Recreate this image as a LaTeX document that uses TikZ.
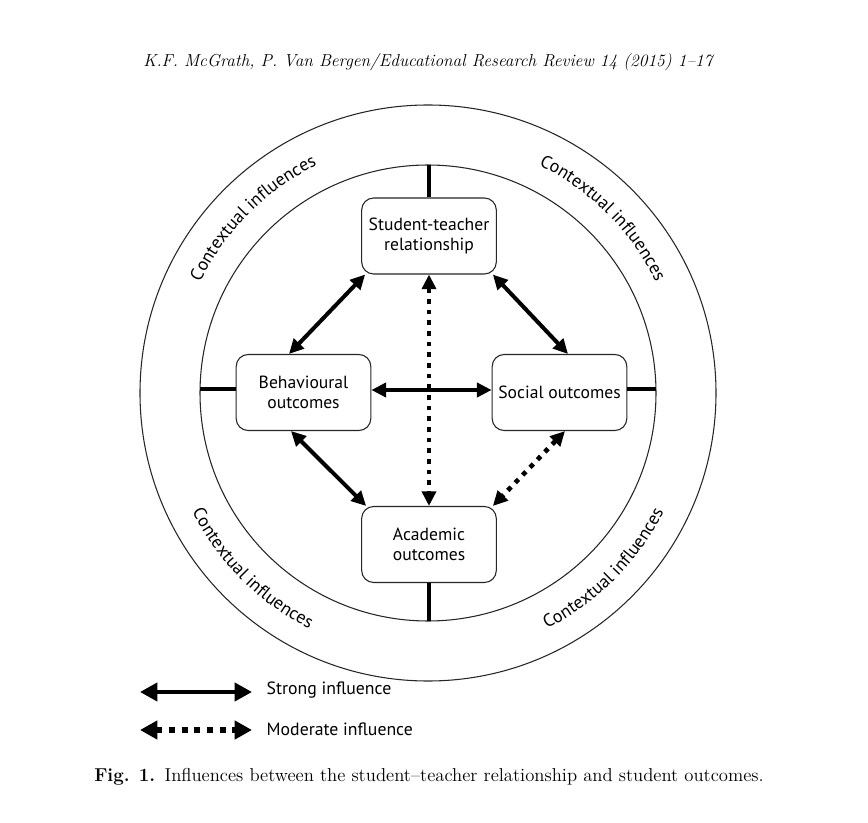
\documentclass[tikz,border=0pt]{standalone}
\usepackage{fontspec}
\newfontfamily\diag{PT Sans}
\usetikzlibrary{arrows.meta,calc,decorations.text}
\begin{document}
\begin{tikzpicture}[x=0.75pt,y=0.75pt,
  box/.style={draw=black!85, line width=0.8pt, rounded corners=9pt, minimum width=101pt, minimum height=57pt, align=center, inner sep=2pt, font=\diag\fontsize{13.2}{15}\selectfont, fill=white},
  ring/.style={draw=black!85, line width=0.8pt},
  bar/.style={line width=3pt},
  strong/.style={line width=3pt, {Triangle[length=11pt,width=10.5pt]}-{Triangle[length=11pt,width=10.5pt]}},
  moderate/.style={line width=3.5pt, dash pattern=on 3.5pt off 4.5pt, {Triangle[length=11pt,width=10.5pt]}-{Triangle[length=11pt,width=10.5pt]}},
  strongleg/.style={line width=3pt, {Triangle[length=13pt,width=13.5pt]}-{Triangle[length=13pt,width=13.5pt]}},
  moderateleg/.style={line width=4.5pt, dash pattern=on 4.5pt off 5pt, {Triangle[length=13pt,width=13.5pt]}-{Triangle[length=13pt,width=13.5pt]}},
  ctx/.style={decorate, decoration={text along path, text align=center, text={|\diag\fontsize{13.5}{15}\selectfont|Contextual influences}}},
  legtext/.style={anchor=west, font=\diag\fontsize{13.3}{15}\selectfont}
]
\useasboundingbox (0,0) rectangle (868,-823);
\coordinate (C) at (428,-393);
% header and caption
\node[font=\fontsize{13}{15}\selectfont\itshape] (hdr) at (428,-62) {K.F. McGrath, P. Van Bergen/Educational Research Review 14 (2015) 1--17};
\node[font=\fontsize{14}{16}\selectfont] (cap) at (429,-777) {\textbf{Fig. 1.}\enspace Influences between the student--teacher relationship and student outcomes.};
% rings
\draw[ring] (C) circle[radius=216pt];
\draw[ring] (C) circle[radius=171pt];
\coordinate (ctop) at ($(C)+(90:171pt)$);
\coordinate (cbot) at ($(C)+(270:171pt)$);
\coordinate (cleft) at ($(C)+(180:171pt)$);
\coordinate (cright) at ($(C)+(0:171pt)$);
% contextual labels
\path[ctx] ($(C)+(172:190pt)$) arc[start angle=172, end angle=98, radius=190pt];
\path[ctx] ($(C)+(82:190pt)$) arc[start angle=82, end angle=8, radius=190pt];
\path[ctx] ($(C)+(188:198pt)$) arc[start angle=188, end angle=262, radius=198pt];
\path[ctx] ($(C)+(278:198pt)$) arc[start angle=278, end angle=352, radius=198pt];
% boxes
\node[box] (st) at (429,-236) {Student-teacher\\relationship};
\node[box] (beh) at (303.5,-392.5) {Behavioural\\outcomes};
\node[box] (soc) at (559.5,-392.5) {Social outcomes};
\node[box] (aca) at (429,-544.5) {Academic\\outcomes};
% bars to inner ring
\draw[bar] (st.north) -- (st.north |- ctop);
\draw[bar] (aca.south) -- (aca.south |- cbot);
\draw[bar] ($(beh.west)+(0,3)$) -- ($(beh.west -| cleft)+(0,3)$);
\draw[bar] ($(soc.east)+(0,3)$) -- ($(soc.east -| cright)+(0,3)$);
% influences
\draw[strong] ($(beh.north)+(-14.5,0)$) -- ($(st.south west)+(4,0)$);
\draw[strong] ($(soc.north)+(8.5,0)$) -- ($(st.south east)+(-4,0)$);
\draw[strong] ($(beh.south)+(-12.5,0)$) -- ($(aca.north west)+(5,0)$);
\draw[strong] ($(beh.east)+(0,2.5)$) -- ($(soc.west)+(0,2.5)$);
\draw[moderate] ($(soc.south)+(5.5,0)$) -- ($(aca.north east)+(-4,0)$);
\draw[moderate] (st.south) -- (aca.north);
% legend
\coordinate (s1) at (140,-692); \coordinate (s2) at (252,-692);
\coordinate (m1) at (140,-730); \coordinate (m2) at (252,-730);
\draw[strongleg] (s1) -- (s2);
\draw[moderateleg] (m1) -- (m2);
\node[legtext] (sl) at (262,-690) {Strong influence};
\node[legtext] (ml) at (262,-729) {Moderate influence};
\end{tikzpicture}
\end{document}
